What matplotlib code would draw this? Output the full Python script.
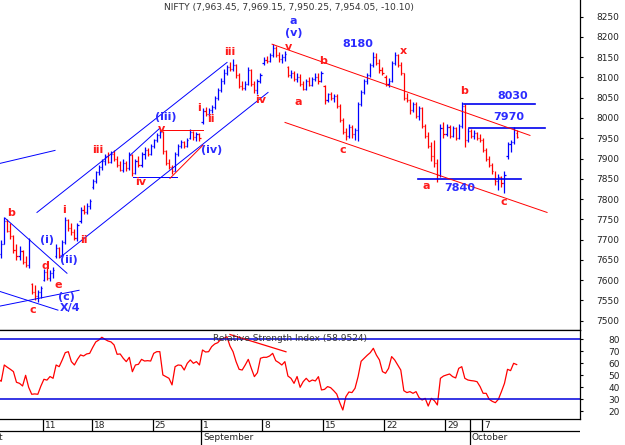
import numpy as np
import matplotlib.pyplot as plt

plt.rcParams['font.family'] = ['DejaVu Sans']

# trading days on the time axis (Aug 1 / Aug 4 only carry the "August" label)
trading_days = ['2014-08-01', '2014-08-04', '2014-08-05', '2014-08-06', '2014-08-07', '2014-08-08',
                '2014-08-11', '2014-08-12', '2014-08-13', '2014-08-14',
                '2014-08-18', '2014-08-19', '2014-08-20', '2014-08-21', '2014-08-22',
                '2014-08-25', '2014-08-26', '2014-08-27', '2014-08-28',
                '2014-09-01', '2014-09-02', '2014-09-03', '2014-09-04', '2014-09-05',
                '2014-09-08', '2014-09-09', '2014-09-10', '2014-09-11', '2014-09-12',
                '2014-09-15', '2014-09-16', '2014-09-17', '2014-09-18', '2014-09-19',
                '2014-09-22', '2014-09-23', '2014-09-24', '2014-09-25', '2014-09-26',
                '2014-09-29', '2014-09-30', '2014-10-01',
                '2014-10-07', '2014-10-08', '2014-10-09', '2014-10-10']
first_bar_day = '2014-08-05'
bars_per_day = 4

# intraday bars, one line per trading day (Aug 5 .. Oct 9)
opens = [7760, 7742, 7665, 7690,
         7745, 7722, 7708, 7675,
         7660, 7672, 7645, 7638,
         7590, 7570, 7560, 7570,
         7600, 7620, 7606, 7618,
         7660, 7680, 7662, 7695,
         7748, 7728, 7718, 7705,
         7745, 7772, 7768, 7784,
         7830, 7845, 7866, 7880,
         7893, 7905, 7892, 7910,
         7900, 7885, 7872, 7890,
         7876, 7908, 7865, 7895,
         7883, 7910, 7922, 7912,
         7930, 7945, 7958, 7965,
         7918, 7890, 7880, 7870,
         7910, 7930, 7940, 7932,
         7950, 7965, 7952, 7960,
         7990, 8018, 8010, 8020,
         8028, 8050, 8070, 8090,
         8112, 8125, 8120, 8130,
         8105, 8080, 8075, 8085,
         8118, 8085, 8070, 8090,
         8135, 8144, 8140, 8155,
         8172, 8156, 8145, 8150,
         8125, 8105, 8112, 8095,
         8102, 8085, 8072, 8090,
         8082, 8095, 8100, 8090,
         8080, 8045, 8058, 8050,
         8055, 8030, 7995, 7965,
         7955, 7978, 7960, 7970,
         8035, 8065, 8090, 8105,
         8130, 8150, 8135, 8118,
         8100, 8085, 8092, 8135,
         8155, 8130, 8110, 8050,
         8045, 8020, 8035, 8005,
         8025, 7980, 7955, 7930,
         7905, 7890, 7860, 7975,
         7960, 7978, 7955, 7975,
         7950, 7980, 8030, 7945,
         7968, 7955, 7962, 7950,
         7945, 7920, 7900, 7885,
         7850, 7845, 7855, 7840,
         7905, 7935, 7940, 7963.45]
highs = [7772, 7748, 7700, 7755,
         7750, 7740, 7712, 7690,
         7685, 7675, 7660, 7705,
         7592, 7588, 7575, 7585,
         7628, 7630, 7625, 7632,
         7688, 7682, 7700, 7756,
         7752, 7740, 7725, 7740,
         7780, 7785, 7790, 7800,
         7850, 7870, 7885, 7898,
         7912, 7915, 7918, 7922,
         7905, 7895, 7898, 7893,
         7915, 7910, 7900, 7905,
         7915, 7928, 7925, 7935,
         7948, 7962, 7972, 7968,
         7920, 7900, 7885, 7915,
         7935, 7945, 7942, 7950,
         7972, 7968, 7966, 7963,
         8025, 8028, 8024, 8032,
         8055, 8075, 8098, 8120,
         8130, 8138, 8145, 8132,
         8110, 8092, 8090, 8125,
         8120, 8090, 8095, 8110,
         8150, 8152, 8160, 8182,
         8178, 8162, 8158, 8165,
         8128, 8118, 8115, 8110,
         8108, 8090, 8095, 8100,
         8100, 8110, 8112, 8115,
         8082, 8062, 8065, 8060,
         8058, 8035, 8000, 7975,
         7985, 7982, 7975, 8040,
         8070, 8095, 8110, 8135,
         8162, 8160, 8145, 8125,
         8105, 8098, 8140, 8162,
         8158, 8138, 8112, 8062,
         8048, 8040, 8040, 8030,
         8028, 7985, 7965, 7940,
         7945, 7900, 7985, 7990,
         7985, 7982, 7980, 7978,
         7985, 8040, 8035, 7975,
         7972, 7970, 7966, 7960,
         7950, 7925, 7905, 7890,
         7870, 7862, 7858, 7868,
         7940, 7945, 7978, 7969.15]
lows = [7735, 7660, 7655, 7688,
        7718, 7702, 7668, 7650,
        7650, 7640, 7632, 7630,
        7565, 7552, 7546, 7555,
        7598, 7600, 7598, 7605,
        7655, 7655, 7656, 7690,
        7722, 7712, 7700, 7697,
        7740, 7762, 7764, 7775,
        7826, 7840, 7860, 7872,
        7885, 7888, 7890, 7895,
        7880, 7868, 7866, 7870,
        7872, 7858, 7862, 7878,
        7880, 7900, 7905, 7908,
        7926, 7940, 7950, 7912,
        7885, 7875, 7862, 7868,
        7906, 7925, 7926, 7928,
        7948, 7945, 7944, 7942,
        7985, 8005, 8006, 8012,
        8022, 8045, 8065, 8085,
        8105, 8115, 8116, 8098,
        8075, 8068, 8068, 8082,
        8080, 8062, 8060, 8086,
        8130, 8135, 8138, 8150,
        8150, 8138, 8135, 8140,
        8100, 8098, 8090, 8088,
        8080, 8068, 8068, 8078,
        8078, 8090, 8085, 8088,
        8035, 8040, 8045, 8040,
        8025, 7990, 7960, 7945,
        7950, 7950, 7945, 7942,
        8030, 8060, 8085, 8100,
        8125, 8130, 8112, 8105,
        8078, 8076, 8088, 8130,
        8125, 8105, 8045, 8040,
        8010, 8015, 8000, 7995,
        7975, 7950, 7925, 7895,
        7880, 7843, 7855, 7950,
        7955, 7950, 7952, 7945,
        7948, 7975, 7928, 7940,
        7950, 7948, 7945, 7940,
        7915, 7895, 7880, 7862,
        7835, 7822, 7830, 7815,
        7900, 7915, 7936, 7950.25]
closes = [7742, 7665, 7690, 7745,
          7722, 7708, 7675, 7660,
          7672, 7645, 7638, 7698,
          7570, 7560, 7570, 7580,
          7620, 7606, 7618, 7625,
          7680, 7662, 7695, 7748,
          7728, 7718, 7705, 7735,
          7772, 7768, 7784, 7795,
          7845, 7866, 7880, 7893,
          7905, 7892, 7910, 7900,
          7885, 7872, 7890, 7876,
          7908, 7865, 7895, 7883,
          7910, 7922, 7912, 7930,
          7945, 7958, 7965, 7918,
          7890, 7880, 7870, 7910,
          7930, 7940, 7932, 7945,
          7965, 7952, 7960, 7950,
          8018, 8010, 8020, 8028,
          8050, 8070, 8090, 8112,
          8125, 8120, 8130, 8105,
          8080, 8075, 8085, 8118,
          8085, 8070, 8090, 8105,
          8144, 8140, 8155, 8172,
          8156, 8145, 8150, 8158,
          8105, 8112, 8095, 8102,
          8085, 8072, 8090, 8082,
          8095, 8100, 8090, 8110,
          8045, 8058, 8050, 8055,
          8030, 7995, 7965, 7955,
          7978, 7960, 7970, 8035,
          8065, 8090, 8105, 8130,
          8150, 8135, 8118, 8110,
          8085, 8092, 8135, 8155,
          8130, 8110, 8050, 8045,
          8020, 8035, 8005, 8025,
          7980, 7955, 7930, 7905,
          7890, 7860, 7975, 7960,
          7978, 7955, 7975, 7950,
          7980, 8030, 7945, 7968,
          7955, 7962, 7950, 7945,
          7920, 7900, 7885, 7870,
          7845, 7855, 7840, 7860,
          7935, 7940, 7970, 7954.05]
rsi = [50.0, 47.0, 45.0, 58.6,
       56.7, 55.0, 53.1, 44.2,
       43.3, 41.1, 50.0, 40.0,
       34.2, 34.5, 34.2, 41.0,
       46.7, 46.0, 49.0, 47.5,
       58.6, 57.2, 62.8, 68.9,
       69.7, 61.4, 58.6, 63.3,
       67.0, 66.1, 67.8, 68.3,
       73.3, 77.8, 79.4, 81.7,
       80.0, 78.6, 77.8, 75.3,
       67.5, 67.8, 64.2, 61.4,
       65.0, 53.0, 58.6, 59.2,
       63.3, 61.9, 62.2, 61.9,
       68.3, 69.7, 69.7, 50.3,
       48.9, 47.5, 42.0, 57.2,
       58.6, 58.3, 54.4, 60.0,
       62.8, 60.0, 61.4, 58.6,
       71.1, 69.4, 69.7, 73.9,
       76.1, 77.2, 80.0, 80.8,
       82.2, 74.4, 69.7, 61.4,
       55.0, 54.4, 58.6, 63.3,
       55.8, 48.9, 52.2, 64.2,
       65.0, 65.0, 66.1, 68.3,
       62.2, 60.6, 58.6, 61.4,
       49.4, 47.5, 43.3, 49.0,
       40.0, 44.7, 47.5, 44.7,
       46.1, 45.3, 48.9, 37.8,
       38.3, 40.6, 39.7, 37.2,
       34.4, 27.2, 21.1, 32.2,
       36.1, 35.6, 39.2, 48.9,
       61.7, 64.2, 66.7, 68.9,
       72.5, 66.9, 62.8, 53.1,
       51.7, 55.8, 65.6, 62.8,
       58.6, 54.4, 37.2, 35.6,
       36.4, 35.0, 36.4, 31.4,
       29.4, 30.8, 24.4, 30.8,
       28.9, 25.3, 47.5, 49.4,
       50.3, 51.1, 48.9, 47.8,
       55.8, 57.2, 47.5, 46.1,
       45.6, 45.3, 44.7, 40.6,
       35.0, 35.0, 30.0, 28.3,
       27.2, 30.0, 36.4, 43.3,
       55.0, 53.9, 60.0, 58.9524]

# wave-count lines: ((day position, price), (day position, price))
blue_lines = [((2.5, 7888), (7.01, 7920)),
              ((2.5, 7572), (7.25, 7526)),
              ((2.5, 7536), (8.98, 7575)),
              ((2.91, 7753), (7.99, 7617)),
              ((7.42, 7656), (24.47, 8063)),
              ((5.53, 7767), (21.11, 8137)),
              ((13.16, 7908), (15.61, 7975)),
              ((13.4, 7854), (17.0, 7854))]
level_lines = [((36.76, 7849), (45.2, 7849)),
               ((40.53, 8035), (46.35, 8035)),
               ((40.94, 7975), (47.17, 7975))]
red_lines = [((15.61, 7970), (19.14, 7970)),
             ((16.43, 7851), (19.14, 7933)),
             ((24.8, 8182), (45.94, 7957)),
             ((25.86, 7989), (47.34, 7767))]
rsi_line = ((21.35, 84), (25.94, 69.6))

BLUE_T, RED_T = '#2b2bff', '#ff1a1a'
labels = [('a', 26.52, 8238, BLUE_T), ('(v)', 26.6, 8209, BLUE_T), ('v', 26.11, 8174, RED_T),
          ('iii', 21.35, 8162, RED_T), ('8180', 31.84, 8182, BLUE_T), ('x', 35.53, 8165, RED_T),
          ('b', 28.98, 8140, RED_T), ('i', 18.81, 8024, RED_T), ('ii', 19.8, 7997, RED_T),
          ('iv', 23.89, 8044, RED_T), ('a', 26.93, 8039, RED_T), ('b', 40.53, 8066, RED_T),
          ('8030', 44.55, 8054, BLUE_T), ('7970', 44.22, 8002, BLUE_T),
          ('(iii)', 16.11, 8003, BLUE_T), ('v', 15.7, 7973, RED_T), ('iii', 10.53, 7920, RED_T),
          ('(iv)', 19.88, 7920, BLUE_T), ('iv', 14.06, 7841, RED_T), ('c', 30.61, 7920, RED_T),
          ('a', 37.42, 7832, RED_T), ('7840', 40.2, 7827, BLUE_T), ('c', 43.81, 7792, RED_T),
          ('b', 3.4, 7765, RED_T), ('i', 7.75, 7772, RED_T), ('ii', 9.39, 7698, RED_T),
          ('(i)', 6.35, 7698, BLUE_T), ('(ii)', 8.16, 7649, BLUE_T), ('d', 6.19, 7634, RED_T),
          ('e', 7.25, 7587, RED_T), ('(c)', 7.91, 7558, BLUE_T), ('c', 5.2, 7526, RED_T),
          ('X/4', 8.24, 7531, BLUE_T)]

W, H = 625, 445
XL = (2.5, 50.04)
fig = plt.figure(figsize=(W / 100, H / 100), dpi=100)
ax = fig.add_axes([0, 1 - 330 / H, 580 / W, 330 / H])
ax_r = fig.add_axes([0, 1 - 419 / H, 580 / W, 89 / H])
ax_d = fig.add_axes([0, 0, 580 / W, 26 / H])

# bar positions
days = np.array(trading_days, dtype='datetime64[D]')
start = trading_days.index(first_bar_day)
n_days = len(closes) // bars_per_day
bar_x = (np.repeat(start + np.arange(n_days), bars_per_day)
         + np.tile(np.arange(bars_per_day) * 0.25 + 0.1, n_days))
o, h, l, c = map(np.array, (opens, highs, lows, closes))
cols = np.where(c >= o, '#0000ff', '#ff0000')
ax.vlines(bar_x, l, h, colors=cols, lw=0.9)
ax.hlines(o, bar_x - 0.09, bar_x, colors=cols, lw=0.9)
ax.hlines(c, bar_x, bar_x + 0.09, colors=cols, lw=0.9)

for (x0, y0), (x1, y1) in blue_lines:
    ax.plot([x0, x1], [y0, y1], color='#0000ff', lw=0.7)
for (x0, y0), (x1, y1) in level_lines:
    ax.plot([x0, x1], [y0, y1], color='#0000ee', lw=1.2)
for (x0, y0), (x1, y1) in red_lines:
    ax.plot([x0, x1], [y0, y1], color='#ff0000', lw=0.7)
for txt, x, y, col in labels:
    ax.text(x, y, txt, color=col, fontsize=8, fontweight='bold', ha='center', va='center')

ax.set_xlim(*XL)
ax.set_ylim(7477, 8291)
ax.set_yticks(np.arange(7500, 8251, 50))

# RSI panel
ax_r.plot(bar_x, rsi, color='#ff0000', lw=0.9)
ax_r.axhline(80, color='#0000dd', lw=1.1)
ax_r.axhline(30, color='#0000dd', lw=1.1)
(x0, y0), (x1, y1) = rsi_line
ax_r.plot([x0, x1], [y0, y1], color='#ff0000', lw=0.9)
ax_r.set_xlim(*XL)
ax_r.set_ylim(13.6, 87.75)
ax_r.set_yticks(np.arange(20, 81, 10))
ax_r.text(0.5, 0.9, 'Relative Strength Index (%.4f)' % rsi[-1], transform=ax_r.transAxes,
          ha='center', va='center', fontsize=6.5, color='#333333')

for a in (ax, ax_r):
    a.yaxis.tick_right()
    a.spines['left'].set_visible(False)
    a.spines['top'].set_visible(a is ax_r)
    for s in a.spines.values():
        s.set_linewidth(0.9)
    a.set_xticks([])
    a.tick_params(axis='y', direction='out', length=2.5, width=0.8, pad=26,
                  labelsize=6.5, labelcolor='#222222')
    for t in a.get_yticklabels():
        t.set_ha('right')

# date rows
ax_d.set_xlim(*XL)
ax_d.set_ylim(0, 26)
ax_d.axis('off')
week = (days - np.datetime64('2014-07-28')).astype(int) // 7
month = days.astype('datetime64[M]')
week_start = np.r_[True, week[1:] != week[:-1]]
month_start = np.r_[True, month[1:] != month[:-1]]
pos = np.arange(len(days))
ax_d.axhline(14, color='black', lw=0.9)
ax_d.vlines(pos[week_start], 14, 26, color='black', lw=0.9)
ax_d.vlines(pos[month_start], 0, 26, color='black', lw=0.9)
for p, d in zip(pos[week_start], days[week_start]):
    if p < XL[0]:
        continue
    ax_d.text(p + 0.17, 20, str(d.astype(object).day), fontsize=6.5, color='#222222',
              ha='left', va='center', clip_on=True)
for p, d in zip(pos[month_start], days[month_start]):
    ax_d.text(p + 0.17, 7, d.astype(object).strftime('%B'), fontsize=6.5, color='#222222',
              ha='left', va='center', clip_on=True)

fig.text(289 / W, 1 - 7.5 / H,
         'NIFTY (7,963.45, 7,969.15, 7,950.25, 7,954.05, -10.10)',
         ha='center', va='center', fontsize=6.6, color='#333333')

fig.savefig('out.png', dpi=100)
